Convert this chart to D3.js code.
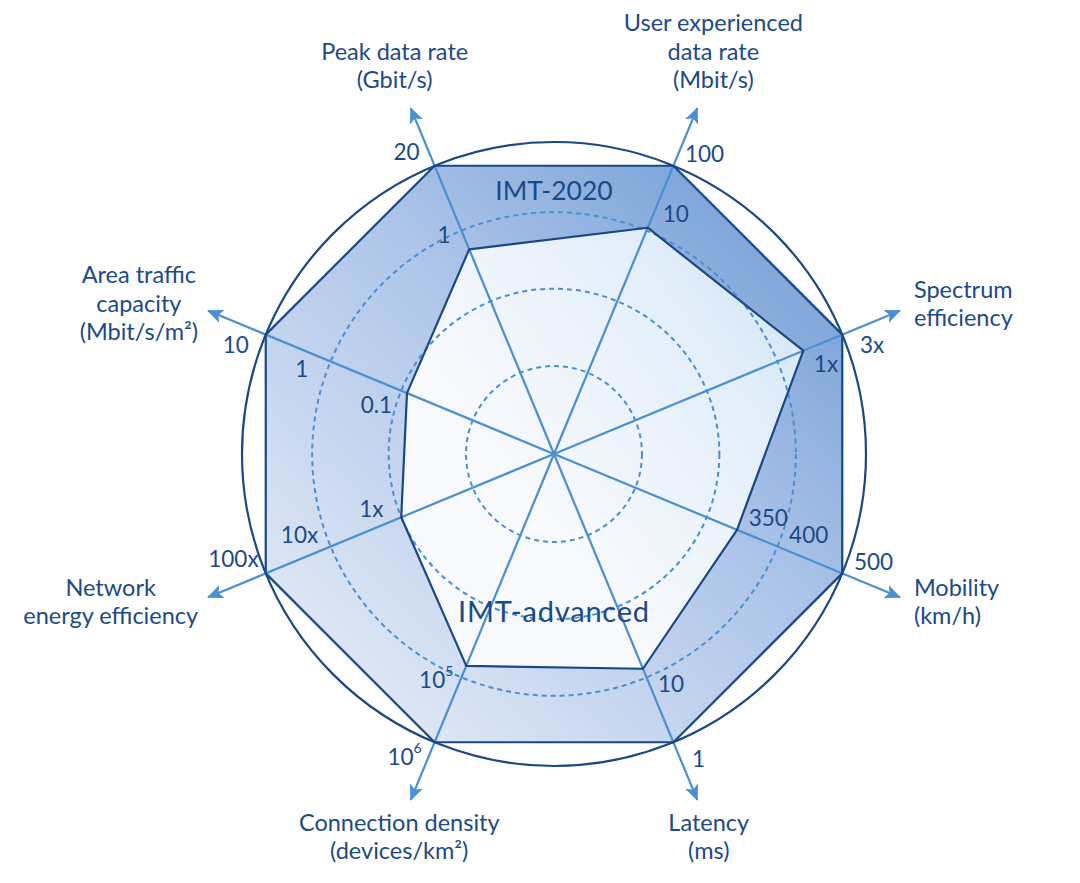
<!DOCTYPE html>
<html>
<head>
<meta charset="utf-8">
<script src="https://cdn.jsdelivr.net/npm/d3@7"></script>
<style>
  body { margin: 0; background: #fff; }
  svg text { font-family: Lato, 'Open Sans', sans-serif; fill: #1c4a86; }
  .axis-name { font-size: 23.5px; }
  .tick-label { font-size: 22.5px; }
  .series-name { font-size: 26.5px; }
  .series-name.adv { font-size: 29px; letter-spacing: 0.8px; }
</style>
</head>
<body>
<div id="chart"></div>
<script>
// axes, clockwise from "Peak data rate"
const axisNames = [
  ["Peak data rate", "(Gbit/s)"],
  ["User experienced", "data rate", "(Mbit/s)"],
  ["Spectrum", "efficiency"],
  ["Mobility", "(km/h)"],
  ["Latency", "(ms)"],
  ["Connection density", "(devices/km²)"],
  ["Network", "energy efficiency"],
  ["Area traffic", "capacity", "(Mbit/s/m²)"]
];

// radial position of each series on each axis (outer octagon = 1)
const imt2020 = [1, 1, 1, 1, 1, 1, 1, 1];
const imtAdvanced = [0.71, 0.785, 0.865, 0.635, 0.745, 0.735, 0.53, 0.51];

// tick labels per axis and their radial positions
const tickLabels = [
  ["1", "20"],
  ["10", "100"],
  ["1x", "3x"],
  ["350", "400", "500"],
  ["10", "1"],
  ["10^5", "10^6"],
  ["1x", "10x", "100x"],
  ["0.1", "1", "10"]
];
const tickLevels = [
  [0.71, 1],
  [0.785, 1],
  [0.84, 1],
  [0.635, 0.775, 1],
  [0.745, 1],
  [0.735, 1],
  [0.53, 0.775, 1],
  [0.51, 0.775, 1]
];

const gridLevels = [0.282, 0.53, 0.775];
const seriesNames = ["IMT-2020", "IMT-advanced"];

const width = 1080, height = 883;
const cx = 554, cy = 454;

const r = d3.scaleLinear().domain([0, 1]).range([0, 312]);
const angle = d3.scaleLinear().domain([0, axisNames.length]).range([-Math.PI / 8, 2 * Math.PI - Math.PI / 8]);

const svg = d3.select("#chart").append("svg")
  .attr("width", width)
  .attr("height", height);

const defs = svg.append("defs");

const bandGrad = defs.append("linearGradient")
  .attr("id", "bandGrad")
  .attr("gradientUnits", "userSpaceOnUse")
  .attr("x1", cx + 260).attr("y1", cy - 260)
  .attr("x2", cx - 230).attr("y2", cy + 260);
bandGrad.append("stop").attr("offset", 0).attr("stop-color", "#6896d3");
bandGrad.append("stop").attr("offset", 0.5).attr("stop-color", "#adc4e8");
bandGrad.append("stop").attr("offset", 1).attr("stop-color", "#dde6f5");

const innerGrad = defs.append("linearGradient")
  .attr("id", "innerGrad")
  .attr("gradientUnits", "userSpaceOnUse")
  .attr("x1", cx + 250).attr("y1", cy - 150)
  .attr("x2", cx - 150).attr("y2", cy + 150);
innerGrad.append("stop").attr("offset", 0).attr("stop-color", "#bad8f2");
innerGrad.append("stop").attr("offset", 0.55).attr("stop-color", "#e3eefa");
innerGrad.append("stop").attr("offset", 1).attr("stop-color", "#f7f9fd");

defs.append("marker")
  .attr("id", "arrow")
  .attr("viewBox", "0 0 16 14")
  .attr("refX", 15)
  .attr("refY", 7)
  .attr("markerWidth", 16)
  .attr("markerHeight", 14)
  .attr("markerUnits", "userSpaceOnUse")
  .attr("orient", "auto")
  .append("path")
  .attr("d", "M0,0 L16,7 L0,14 L4,7 Z")
  .attr("fill", "#4a8fd2");

const g = svg.append("g").attr("transform", `translate(${cx},${cy})`);

const radial = d3.lineRadial()
  .angle((d, i) => angle(i))
  .radius(d => r(d))
  .curve(d3.curveLinearClosed);

// filled areas
g.append("path").datum(imt2020).attr("d", radial).attr("fill", "url(#bandGrad)");
g.append("path").datum(imtAdvanced).attr("d", radial).attr("fill", "url(#innerGrad)");

// dashed grid circles
g.selectAll(".grid").data(gridLevels).join("circle")
  .attr("class", "grid")
  .attr("r", d => r(d))
  .attr("fill", "none")
  .attr("stroke", "#4a8fd2")
  .attr("stroke-width", 2)
  .attr("stroke-dasharray", "5,4");

// axes with arrows
const pt = (i, rad) => [Math.sin(angle(i)) * rad, -Math.cos(angle(i)) * rad];
g.selectAll(".axis").data(axisNames).join("line")
  .attr("class", "axis")
  .attr("x1", 0).attr("y1", 0)
  .attr("x2", (d, i) => pt(i, r(1.2))[0])
  .attr("y2", (d, i) => pt(i, r(1.2))[1])
  .attr("stroke", "#4a8fd2")
  .attr("stroke-width", 2.2)
  .attr("marker-end", "url(#arrow)");

// series outlines
g.append("path").datum(imt2020).attr("d", radial)
  .attr("fill", "none").attr("stroke", "#1b4784").attr("stroke-width", 2.2).attr("stroke-linejoin", "round");
g.append("path").datum(imtAdvanced).attr("d", radial)
  .attr("fill", "none").attr("stroke", "#1b4784").attr("stroke-width", 2.2).attr("stroke-linejoin", "round");

// outer circle
g.append("circle").attr("r", r(1)).attr("fill", "none").attr("stroke", "#1b4784").attr("stroke-width", 2.2);

// tick labels
tickLabels.forEach((labels, i) => {
  const a = angle(i);
  const u = [Math.sin(a), -Math.cos(a)];
  const n = [Math.cos(a), Math.sin(a)];
  const side = (i % 4 === 0 || i % 4 === 3) ? -1 : 1;
  labels.forEach((lab, j) => {
    const t = g.append("text")
      .attr("class", "tick-label")
      .attr("text-anchor", "middle")
      .attr("dominant-baseline", "central");
    const parts = lab.split("^");
    t.append("tspan").text(parts[0]);
    if (parts[1]) {
      t.append("tspan").attr("dy", -9).attr("font-size", 14).text(parts[1]);
    }
    const w = t.node().getComputedTextLength();
    const along = r(tickLevels[i][j]) + 24;
    const perp = side * (14 + 0.25 * w);
    t.attr("x", u[0] * along + n[0] * perp)
     .attr("y", u[1] * along + n[1] * perp);
  });
});

// axis names
const lineH = 28.5;
axisNames.forEach((lines, i) => {
  const tip = pt(i, r(1.2));
  const u = [Math.sin(angle(i)), -Math.cos(angle(i))];
  const t = g.append("text").attr("class", "axis-name");
  lines.forEach(l => t.append("tspan").text(l));
  const spans = t.selectAll("tspan");
  const maxW = d3.max(spans.nodes(), s => s.getComputedTextLength());
  let x, y0, anchor;
  if (u[1] < -0.9) {
    anchor = "middle"; x = tip[0] + u[0] * 42;
    y0 = tip[1] - 20 - (lines.length - 1) * lineH;
  } else if (u[1] > 0.9) {
    anchor = "middle"; x = tip[0] + u[0] * 30;
    y0 = tip[1] + 31;
  } else {
    const mid = tip[1] + u[1] * 15;
    y0 = mid + 7 - (lines.length - 1) * lineH / 2;
    if (u[0] > 0) { anchor = "start"; x = tip[0] + 14; }
    else { anchor = "middle"; x = tip[0] - 10 - maxW / 2; }
  }
  t.attr("text-anchor", anchor);
  spans.attr("x", x).attr("y", (d, k) => y0 + k * lineH);
});

// series names
g.append("text").attr("class", "series-name")
  .attr("text-anchor", "middle")
  .attr("x", 0).attr("y", r(-0.815))
  .text(seriesNames[0]);
g.append("text").attr("class", "series-name adv")
  .attr("text-anchor", "middle")
  .attr("x", 0).attr("y", r(0.54))
  .text(seriesNames[1]);
</script>
</body>
</html>
